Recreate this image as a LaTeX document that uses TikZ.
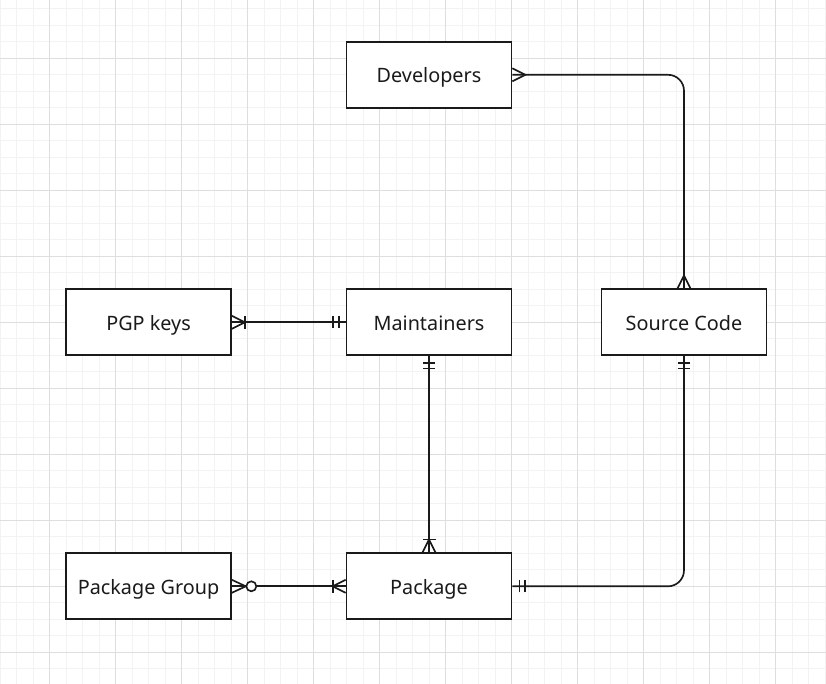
\documentclass[tikz,border=0pt]{standalone}
\usepackage{fontspec}
\setmainfont{Noto Sans}
\usepackage{tikz}
\usetikzlibrary{positioning}
\definecolor{gridminor}{HTML}{F3F3F3}
\definecolor{gridmajor}{HTML}{DEDEDE}
\definecolor{ink}{HTML}{1A1A1A}
\tikzset{
  entity/.style={rectangle,draw=ink,line width=1.65pt,fill=white,text=ink,
    minimum width=165pt,minimum height=66pt,inner sep=0pt,
    text height=17pt,text depth=1.6pt,
    font=\fontsize{19.8}{24}\selectfont},
  rel/.style={draw=ink,line width=1.65pt},
  bent/.style={rel,rounded corners=16pt},
  pics/many/.style={code={\draw[rel] (0,6.5) -- (13,0) -- (0,-6.5);}},
  pics/onemany/.style={code={\draw[rel] (0,6.5) -- (13,0) -- (0,-6.5);
    \draw[rel] (13,6.5) -- (13,-6.5);}},
  pics/mandone/.style={code={\draw[rel] (7,6) -- (7,-6);
    \draw[rel] (12.5,6) -- (12.5,-6);}},
  pics/zeromany/.style={code={\draw[rel] (0,6.5) -- (14,0) -- (0,-6.5);
    \draw[rel,fill=white] (19.5,0) circle (5);}},
}

\begin{document}
\begin{tikzpicture}[x=1pt,y=-1pt]
% background and grid
\fill[white] (0,0) rectangle (826,684);
\useasboundingbox (0,0) rectangle (826,684);
\foreach \x in {0,16.5,...,826} \draw[gridminor,line width=1pt] (\x,0) -- (\x,684);
\foreach \y in {8.8,25.3,...,684} \draw[gridminor,line width=1pt] (0,\y) -- (826,\y);
\foreach \x in {49.5,115.5,...,826} \draw[gridmajor,line width=1pt] (\x,0) -- (\x,684);
\foreach \y in {58.3,124.3,...,684} \draw[gridmajor,line width=1pt] (0,\y) -- (826,\y);
%
\node (dev) [entity] at (429,74.8) {Developers};
\node (pgp) [entity] at (148.5,322.3) {PGP keys};
\node (mnt) [entity] at (429,322.3) {Maintainers};
\node (src) [entity] at (684,322.3) {Source Code};
\node (grp) [entity] at (148.5,586.3) {Package Group};
\node (pkg) [entity] at (429,586.3) {Package};
%
\draw[bent] (dev.east) -| (src.north);
\draw[bent] (pkg.east) -| (src.south);
\draw[rel] (pgp.east) -- (mnt.west);
\draw[rel] (mnt.south) -- (pkg.north);
\draw[rel] (grp.east) -- (pkg.west);
%
\pic at (dev.east) {many};
\pic[rotate=90] at (src.north) {many};
\pic at (pgp.east) {onemany};
\pic[rotate=180] at (mnt.west) {mandone};
\pic[rotate=-90] at (mnt.south) {mandone};
\pic[rotate=90] at (pkg.north) {onemany};
\pic at (grp.east) {zeromany};
\pic[rotate=180] at (pkg.west) {onemany};
\pic at (pkg.east) {mandone};
\pic[rotate=-90] at (src.south) {mandone};
%
\end{tikzpicture}
\end{document}
